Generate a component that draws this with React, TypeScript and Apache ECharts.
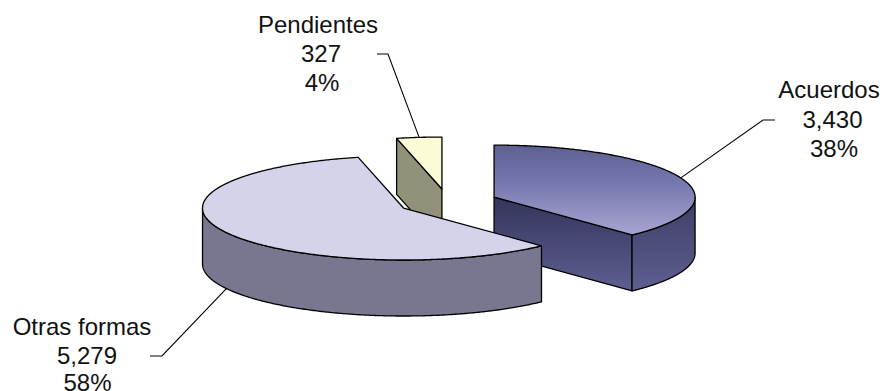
import React, { useEffect, useRef } from "react";
import * as echarts from "echarts";

// Amounts per resolution type
const categories = ["Acuerdos", "Otras formas", "Pendientes"];
const amounts = [3430, 5279, 327];
const percentLabels = ["38%", "58%", "4%"];

const WIDTH = 882;
const HEIGHT = 391;

// Pie projection: a flat disc tilted towards the viewer, with every slice pulled out
const PIE = { cx: 447.6, cy: 201.9, rx: 201, ry: 52, depth: 56, explode: 50, startDeg: 270 };

const FONT = '"Liberation Sans", Arial, sans-serif';
const FONT_SIZE = 24;
// Distance from the top of a text box to its baseline at this font size
const BASELINE_OFFSET = 20;

const gradient = (stops: [number, string][]) =>
  new echarts.graphic.LinearGradient(0, 0, 0, 1, stops.map(([offset, color]) => ({ offset, color })));

const sliceStyles = [
  {
    top: gradient([[0, "#5d6092"], [0.4, "#7377ad"], [1, "#a8a4d2"]]),
    cut: gradient([[0, "#34355a"], [1, "#5e5e92"]]),
    rim: gradient([[0, "#3e3e64"], [1, "#5e5e92"]]),
  },
  { top: "#d5d3ea", cut: "#77778f", rim: "#77778f" },
  { top: "#fbfbd6", cut: "#92927a", rim: "#92927a" },
];

// Callout layout: elbow of the leader, end of the leader, then [centre x, baseline y] per text line
const callouts = [
  { elbow: [763, 120], end: [775, 120], lines: [[829, 97], [832.5, 127], [834, 156]] },
  { elbow: [162, 356], end: [150, 356], lines: [[82, 334], [87, 363], [87.5, 390]] },
  { elbow: [388, 54], end: [377, 54], lines: [[318, 32], [321, 61], [322, 90]] },
];

const rad = (d: number) => (d * Math.PI) / 180;
const total = amounts.reduce((s, v) => s + v, 0);

// Angular extents and exploded centres follow from the amounts
let cursor = PIE.startDeg;
const slices = amounts.map((v, i) => {
  const start = cursor;
  const end = cursor + (v / total) * 360;
  cursor = end;
  const mid = (start + end) / 2;
  return {
    index: i,
    start,
    end,
    mid,
    cx: PIE.cx + PIE.explode * Math.cos(rad(mid)),
    cy: PIE.cy + PIE.explode * (PIE.ry / PIE.rx) * Math.sin(rad(mid)),
  };
});

// Painted from the back of the scene to the front
const paintOrder = [...slices].sort((a, b) => a.cy - b.cy);

const rimPoint = (s: { cx: number; cy: number }, deg: number, dy = 0) => [
  s.cx + PIE.rx * Math.cos(rad(deg)),
  s.cy + PIE.ry * Math.sin(rad(deg)) + dy,
];

const arcPoints = (s: { cx: number; cy: number }, a: number, b: number, dy = 0) => {
  const pts: number[][] = [];
  const steps = Math.max(2, Math.ceil(Math.abs(b - a) * 2));
  for (let k = 0; k <= steps; k++) pts.push(rimPoint(s, a + ((b - a) * k) / steps, dy));
  return pts;
};

const buildSlice = (s: (typeof slices)[number]) => {
  const style = sliceStyles[s.index];
  const stroke = { stroke: "#000", lineWidth: 1.3, lineJoin: "round" };
  const apex = [s.cx, s.cy];
  const apexLow = [s.cx, s.cy + PIE.depth];
  const children: any[] = [];

  const cutFace = (deg: number) => ({
    type: "polygon",
    shape: { points: [apex, rimPoint(s, deg), rimPoint(s, deg, PIE.depth), apexLow] },
    style: { fill: style.cut, ...stroke },
  });
  // Only cut faces turned towards the viewer are drawn
  if (Math.cos(rad(s.start)) < -1e-6) children.push(cutFace(s.start));
  if (Math.cos(rad(s.end)) > 1e-6) children.push(cutFace(s.end));

  // Outer wall: the part of the rim on the near half of the disc
  for (const base of [0, 360]) {
    const a = Math.max(s.start, base);
    const b = Math.min(s.end, base + 180);
    if (b > a) {
      children.push({
        type: "polygon",
        shape: { points: [...arcPoints(s, a, b), ...arcPoints(s, b, a, PIE.depth)] },
        style: { fill: style.rim, ...stroke },
      });
    }
  }

  children.push({
    type: "polygon",
    shape: { points: [apex, ...arcPoints(s, s.start, s.end)] },
    style: { fill: style.top, ...stroke },
  });
  return children;
};

const buildCallout = (s: (typeof slices)[number]) => {
  const c = callouts[s.index];
  // The leader leaves the rim at the slice's middle angle, on the wall when it faces the viewer
  const facing = Math.sin(rad(s.mid)) > 0;
  const from = rimPoint(s, s.mid, facing ? PIE.depth : 0);
  const texts = [categories[s.index], amounts[s.index].toLocaleString("en-US"), percentLabels[s.index]];
  return [
    {
      type: "polyline",
      shape: { points: [from, c.elbow, c.end] },
      style: { fill: "none", stroke: "#000", lineWidth: 1.1 },
    },
    ...texts.map((text, k) => ({
      type: "text",
      x: c.lines[k][0],
      y: c.lines[k][1] - BASELINE_OFFSET,
      style: {
        text,
        fill: "#111",
        font: `${FONT_SIZE}px ${FONT}`,
        textAlign: "center",
        verticalAlign: "top",
      },
    })),
  ];
};

export default function App() {
  const ref = useRef<HTMLDivElement>(null);

  useEffect(() => {
    document.body.style.margin = "0";
    const chart = echarts.init(ref.current!, null, { renderer: "svg" });
    chart.setOption({
      animation: false,
      backgroundColor: "#fff",
      series: [
        {
          type: "custom",
          coordinateSystem: "none",
          silent: true,
          data: paintOrder.map((s) => amounts[s.index]),
          renderItem: (params: any) => {
            const s = paintOrder[params.dataIndex];
            return { type: "group", children: [...buildSlice(s), ...buildCallout(s)] };
          },
        },
      ],
    });
    return () => chart.dispose();
  }, []);

  return <div ref={ref} style={{ width: WIDTH, height: HEIGHT }} />;
}
